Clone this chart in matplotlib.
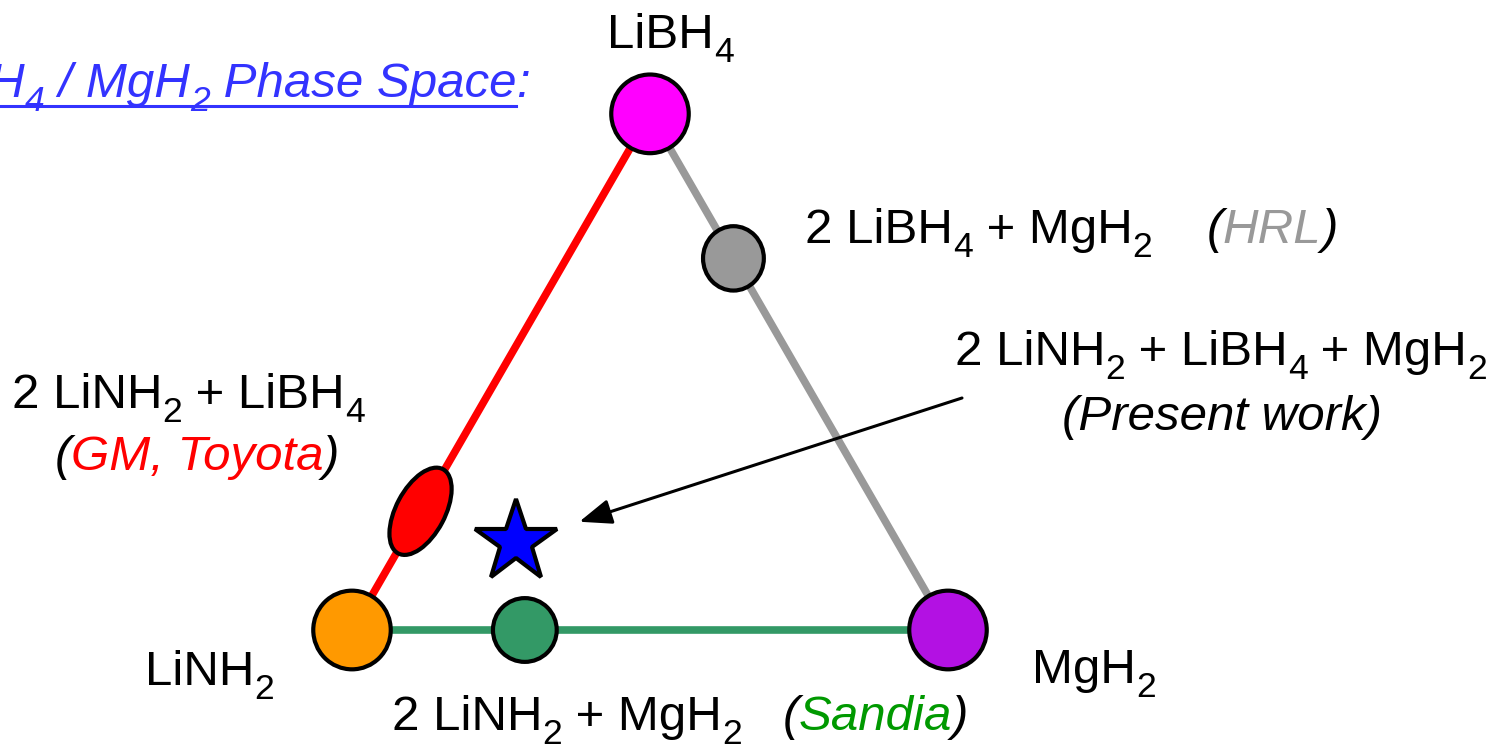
import numpy as np
import matplotlib
matplotlib.use('Agg')
from matplotlib import pyplot as plt
from matplotlib.patches import Ellipse

FONT = 'Liberation Sans'
plt.rcParams['font.family'] = [FONT, 'DejaVu Sans']

# ternary compositions: (LiNH2, MgH2, LiBH4) fractions
vertex_names = ['LiNH2', 'MgH2', 'LiBH4']
vertex_colors = ['#FF9900', '#B311E3', '#FF00FF']
mix_names = ['LiBH4+MgH2 (HRL)', 'LiNH2+MgH2 (Sandia)', 'LiNH2+LiBH4 (GM, Toyota)', 'present work']
mix_comp = [(0.00, 0.28, 0.72),
            (0.71, 0.29, 0.00),
            (0.77, 0.00, 0.23),
            (0.64, 0.19, 0.17)]
mix_colors = ['#999999', '#339966', '#FF0000', '#0000FF']
edge_colors = ['#FF0000', '#999999', '#339966']  # LiNH2-LiBH4, LiBH4-MgH2, LiNH2-MgH2

corners = np.array([[0.0, 0.0], [1.0, 0.0], [0.5, np.sqrt(3) / 2]])


def tern(c):
    return np.dot(np.asarray(c), corners)


def px(xp, yp):
    # pixel position in the picture -> data units
    return (xp - 352) / 596.0, (630 - yp) / 596.0


fig = plt.figure(figsize=(14.95, 7.45), dpi=100, facecolor='w')
ax = fig.add_axes([0, 0, 1, 1])
x0, _ = px(0, 0)
x1, _ = px(1495, 0)
_, ytop = px(0, 0)
_, ybot = px(0, 745)
ax.set_xlim(x0, x1)
ax.set_ylim(ybot, ytop)
ax.axis('off')

# triangle edges
ax.plot(*zip(corners[0], corners[2]), color=edge_colors[0], lw=5.5, zorder=1, solid_capstyle='butt')
ax.plot(*zip(corners[2], corners[1]), color=edge_colors[1], lw=5.5, zorder=1, solid_capstyle='butt')
ax.plot(*zip(corners[0], corners[1]), color=edge_colors[2], lw=5.5, zorder=1, solid_capstyle='butt')

# vertex circles
for p, col in zip(corners, vertex_colors):
    ax.add_patch(Ellipse(p, 0.130, 0.132, fc=col, ec='k', lw=3, zorder=3))

# mixtures
gray = tern(mix_comp[0])
ax.add_patch(Ellipse(gray, 0.102, 0.108, fc=mix_colors[0], ec='k', lw=3, zorder=3))
green = tern(mix_comp[1])
ax.add_patch(Ellipse(green, 0.107, 0.107, fc=mix_colors[1], ec='k', lw=3, zorder=3))
red = tern(mix_comp[2])
ax.add_patch(Ellipse(red, 0.16, 0.082, angle=62, fc=mix_colors[2], ec='k', lw=3, zorder=3))
star = tern(mix_comp[3])
ax.plot(*star, marker='*', ms=62, mfc=mix_colors[3], mec='k', mew=3, zorder=3)

ax.annotate('', xy=star, xytext=px(962, 398),
            arrowprops=dict(arrowstyle='-|>,head_length=0.9,head_width=0.35',
                            color='k', lw=2.2, shrinkA=0, shrinkB=48,
                            mutation_scale=22), zorder=4)

FS = 35.5
SUB = 0.72
SUB_DROP = 14 / 596.0
renderer = fig.canvas.get_renderer()
inv = ax.transData.inverted()


def formula(s):
    # split 'LiNH_2' style strings into (text, is_subscript) chunks
    out = []
    for i, chunk in enumerate(s.split('_')):
        if i == 0:
            out.append((chunk, False))
        else:
            out.append((chunk[0], True))
            if chunk[1:]:
                out.append((chunk[1:], False))
    return out


def put_parts(x, y, parts, ha='left', size=FS):
    cx = x
    arts = []
    for s, col, style in parts:
        for chunk, sub in formula(s):
            t = ax.text(cx, y - (SUB_DROP if sub else 0), chunk, color=col,
                        fontsize=size * (SUB if sub else 1), style=style,
                        ha='left', va='baseline', zorder=5)
            bb = t.get_window_extent(renderer)
            cx = inv.transform((bb.x1, 0))[0]
            arts.append(t)
    if ha != 'left':
        shift = (cx - x) / 2 if ha == 'center' else (cx - x)
        for t in arts:
            t.set_x(t.get_position()[0] - shift)
    return arts


put_parts(*px(607, 48), [('LiBH_4', 'k', 'normal')])
put_parts(*px(145, 685), [('LiNH_2', 'k', 'normal')])
put_parts(*px(1032, 683), [('MgH_2', 'k', 'normal')])

put_parts(*px(805, 243), [('2 LiBH_4 + MgH_2    ', 'k', 'normal'),
                          ('(', 'k', 'italic'), ('HRL', '#999999', 'italic'),
                          (')', 'k', 'italic')])
put_parts(*px(955, 365), [('2 LiNH_2 + LiBH_4 + MgH_2', 'k', 'normal')])
put_parts(*px(1222, 430), [('(Present work)', 'k', 'italic')], ha='center')
put_parts(*px(12, 408), [('2 LiNH_2 + LiBH_4', 'k', 'normal')])
put_parts(*px(197, 470), [('(', 'k', 'italic'), ('GM, Toyota', '#FF0000', 'italic'),
                          (')', 'k', 'italic')], ha='center')
put_parts(*px(392, 730), [('2 LiNH_2 + MgH_2   ', 'k', 'normal'),
                          ('(', 'k', 'italic'), ('Sandia', '#009900', 'italic'),
                          (')', 'k', 'italic')])

# title, cut at the left edge
title_col = '#3333FF'
tx, ty = px(516, 97)
tt = put_parts(tx, ty, [('LiNH_2 / LiBH_4 / MgH_2 Phase Space', title_col, 'italic')],
               ha='right')
put_parts(tx, ty, [(':', title_col, 'italic')])
ux0 = inv.transform((tt[0].get_window_extent(renderer).x0, 0))[0]
ax.plot([ux0, tx], [ty - 9 / 596.0, ty - 9 / 596.0], color=title_col, lw=2.2, zorder=4)

fig.savefig('out.png', dpi=100, facecolor='w')
